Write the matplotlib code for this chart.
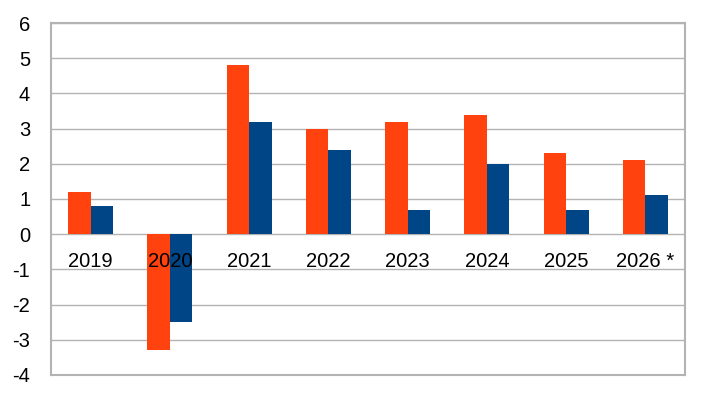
import matplotlib
matplotlib.use("Agg")
import matplotlib.pyplot as plt
import matplotlib.transforms as mtransforms
import numpy as np

plt.rcParams['font.family'] = ['Liberation Sans', 'DejaVu Sans']

categories = ["2019", "2020", "2021", "2022", "2023", "2024", "2025", "2026 *"]
series_orange = [1.2, -3.3, 4.8, 3.0, 3.2, 3.4, 2.3, 2.1]
series_blue = [0.8, -2.5, 3.2, 2.4, 0.7, 2.0, 0.7, 1.1]
yticks = [-4, -3, -2, -1, 0, 1, 2, 3, 4, 5, 6]

fig = plt.figure(figsize=(7.08, 3.98), dpi=100)
ax = fig.add_axes([0.072, 0.0578, 0.8955, 0.8844])

x = np.arange(len(categories))
w = 0.284
ax.bar(x - w/2, series_orange, width=w, color="#ff420e", zorder=2)
ax.bar(x + w/2, series_blue, width=w, color="#004586", zorder=2)

ax.set_xlim(-0.5, len(categories) - 0.5)
ax.set_ylim(-4, 6)
ax.set_yticks(yticks)
ax.set_yticklabels([str(v) for v in yticks], fontsize=14.5)
ax.tick_params(axis='y', length=0, pad=15)
ax.set_xticks([])
ax.grid(axis='y', color="#b3b3b3", linewidth=1, zorder=0)
ax.set_axisbelow(True)
for s in ax.spines.values():
    s.set_color("#b3b3b3")
    s.set_linewidth(1.5)

off = mtransforms.offset_copy(ax.transData, fig=fig, x=0, y=-27, units='dots')
for i, c in enumerate(categories):
    ax.text(i, 0, c, transform=off, ha='center', va='center', fontsize=14.5, zorder=5)

fig.savefig("out.png", dpi=100)
